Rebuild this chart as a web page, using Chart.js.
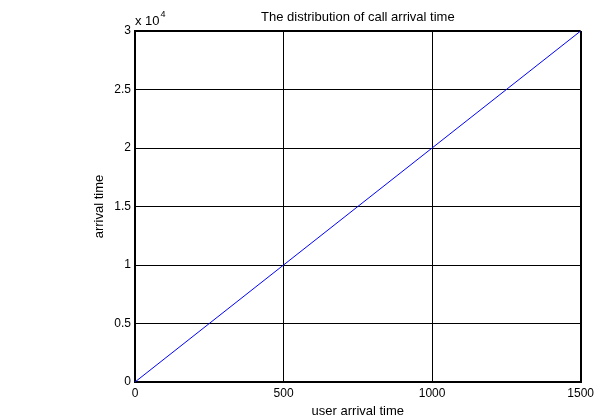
<!DOCTYPE html>
<html>
<head>
<meta charset="utf-8">
<script src="https://cdn.jsdelivr.net/npm/chart.js@4"></script>
<style>
  html, body { margin: 0; padding: 0; background: #fff; }
  #wrap { width: 598px; height: 419px; }
</style>
</head>
<body>
<div id="wrap"><canvas id="arrivalChart" width="598" height="419"></canvas></div>
<script>
// user arrival time (x) vs call arrival time (y)
const userArrival = [0, 250, 500, 750, 1000, 1250, 1500];
const arrivalTime = [0, 5000, 10000, 15000, 20000, 25000, 30000];
const xTicks = [0, 500, 1000, 1500];
const yTicks = [0, 5000, 10000, 15000, 20000, 25000, 30000];
const chartTitle = 'The distribution of call arrival time';

const FONT = "Arial, 'Liberation Sans', sans-serif";

// title centred over the axes box, plus the "x 10^4" exponent label (MATLAB style)
const axesText = {
    id: 'axesText',
    afterDraw(chart) {
        const ctx = chart.ctx;
        const area = chart.chartArea;
        ctx.save();
        ctx.fillStyle = '#000';
        ctx.font = '13px ' + FONT;
        ctx.textAlign = 'center';
        ctx.textBaseline = 'middle';
        ctx.fillText(chartTitle, (area.left + area.right) / 2, 17);

        ctx.textBaseline = 'alphabetic';
        ctx.textAlign = 'left';
        ctx.fillText('x 10', area.left, 25);
        const w = ctx.measureText('x 10').width;
        ctx.font = '9px ' + FONT;
        ctx.fillText('4', area.left + w + 1, 17);
        ctx.restore();
    }
};

const edge = (c) => (c.index === 0 || c.index === c.scale.ticks.length - 1) ? 2 : 1;

new Chart(document.getElementById('arrivalChart').getContext('2d'), {
    type: 'line',
    data: {
        datasets: [{
            label: 'arrival time',
            data: userArrival.map((x, i) => ({ x: x, y: arrivalTime[i] })),
            borderColor: '#0000ff',
            borderWidth: 1,
            pointRadius: 0,
            tension: 0,
            fill: false
        }]
    },
    options: {
        responsive: false,
        animation: false,
        layout: { padding: { left: 92, right: 15, top: 31, bottom: 0 } },
        plugins: {
            legend: { display: false },
            tooltip: { enabled: false },
            title: { display: false }
        },
        scales: {
            x: {
                type: 'linear',
                min: 0,
                max: 1500,
                afterBuildTicks: s => { s.ticks = xTicks.map(v => ({ value: v })); },
                afterFit: s => { s.height = 37; },
                ticks: {
                    color: '#000',
                    font: { family: FONT, size: 12 },
                    padding: 4,
                    maxRotation: 0,
                    callback: v => String(v)
                },
                grid: { color: '#000', lineWidth: edge, drawTicks: false },
                border: { display: true, color: '#000', width: 2 },
                title: {
                    display: true,
                    text: 'user arrival time',
                    color: '#000',
                    font: { family: FONT, size: 13 },
                    padding: 0
                }
            },
            y: {
                type: 'linear',
                min: 0,
                max: 30000,
                afterBuildTicks: s => { s.ticks = yTicks.map(v => ({ value: v })); },
                afterFit: s => { s.width = 43; },
                ticks: {
                    color: '#000',
                    font: { family: FONT, size: 12 },
                    padding: 4,
                    callback: v => String(v / 10000)
                },
                grid: { color: '#000', lineWidth: edge, drawTicks: false },
                border: { display: true, color: '#000', width: 2 },
                title: {
                    display: true,
                    text: 'arrival time',
                    color: '#000',
                    font: { family: FONT, size: 13 },
                    padding: 0
                }
            }
        }
    },
    plugins: [axesText]
});
</script>
</body>
</html>
